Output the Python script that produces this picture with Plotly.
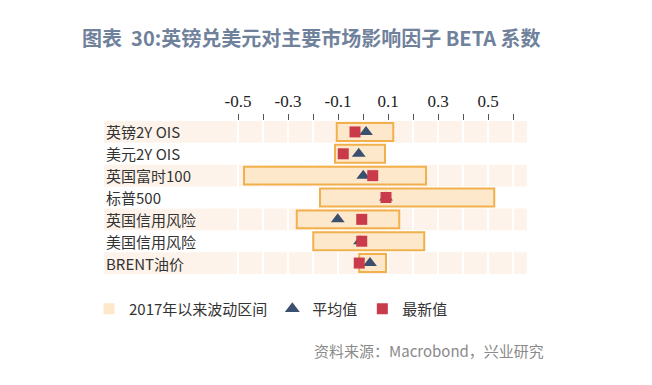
import plotly.graph_objects as go

categories = ["英镑2Y OIS", "美元2Y OIS", "英国富时100", "标普500", "英国信用风险", "美国信用风险", "BRENT油价"]
range_low = [-0.105, -0.112, -0.476, -0.172, -0.265, -0.199, -0.015]
range_high = [0.121, 0.088, 0.252, 0.525, 0.145, 0.245, 0.092]
mean_vals = [0.012, -0.017, 0.001, 0.092, -0.101, -0.012, 0.028]
latest_vals = [-0.032, -0.079, 0.039, 0.092, -0.005, -0.005, -0.015]
tick_vals = [-0.5, -0.4, -0.3, -0.2, -0.1, 0.0, 0.1, 0.2, 0.3, 0.4, 0.5, 0.6]
tick_text = ["-0.5", "", "-0.3", "", "-0.1", "", "0.1", "", "0.3", "", "0.5", ""]

title = "图表  30:英镑兑美元对主要市场影响因子 BETA 系数"
source = "资料来源：Macrobond，兴业研究"
legend_names = ["2017年以来波动区间", "平均值", "最新值"]

BOX_FILL = "#fde8cb"
BOX_LINE = "#f2b04c"
BAND = "#fdf3ea"
TRI = "#3b4f6f"
SQ = "#c93a4a"
CJK = "Noto Sans CJK SC"

ys = list(range(len(categories)))
fig = go.Figure()

fig.add_trace(go.Bar(
    y=ys, x=[h - l for l, h in zip(range_low, range_high)], base=range_low,
    orientation="h", width=0.82,
    marker=dict(color=BOX_FILL, line=dict(color=BOX_LINE, width=2)),
    showlegend=False, hoverinfo="skip",
))
fig.add_trace(go.Scatter(
    y=ys, x=mean_vals, mode="markers",
    marker=dict(symbol="triangle-up", size=12, color=TRI),
    showlegend=False,
))
fig.add_trace(go.Scatter(
    y=ys, x=latest_vals, mode="markers",
    marker=dict(symbol="square", size=11, color=SQ),
    showlegend=False,
))
# legend entries
fig.add_trace(go.Scatter(x=[None], y=[None], mode="markers", name=legend_names[0],
                         marker=dict(symbol="square", size=11, color=BOX_FILL)))
fig.add_trace(go.Scatter(x=[None], y=[None], mode="markers", name=legend_names[1],
                         marker=dict(symbol="triangle-up", size=13, color=TRI)))
fig.add_trace(go.Scatter(x=[None], y=[None], mode="markers", name=legend_names[2],
                         marker=dict(symbol="square", size=11, color=SQ)))

shapes = []
for i in ys:
    if i % 2 == 0:
        shapes.append(dict(type="rect", xref="paper", x0=0, x1=1, yref="y",
                           y0=i - 0.5, y1=i + 0.5, fillcolor=BAND,
                           line=dict(width=0), layer="below"))

annotations = []
for i, c in zip(ys, categories):
    annotations.append(dict(xref="paper", x=0, xanchor="left", yref="y", y=i,
                            text=c, showarrow=False,
                            font=dict(family=CJK, size=15, color="#333333")))
annotations.append(dict(xref="paper", yref="paper", x=(80 - 104) / 423, xanchor="left",
                        y=(274 - 38) / 153, yanchor="middle", text=title, showarrow=False,
                        font=dict(family=CJK, size=20, color="#6f819b", weight="bold")))
annotations.append(dict(xref="paper", yref="paper", x=(546 - 104) / 423, xanchor="right",
                        y=(274 - 350) / 153, yanchor="middle", text=source, showarrow=False,
                        font=dict(family=CJK, size=15, color="#8a8a8a")))

fig.update_layout(
    width=652, height=385,
    margin=dict(l=96, r=133, t=113, b=119),
    paper_bgcolor="white", plot_bgcolor="rgba(0,0,0,0)",
    shapes=shapes, annotations=annotations,
    barmode="overlay",
    legend=dict(orientation="h", x=(89 - 104) / 423, xanchor="left",
                y=(274 - 309) / 153, yanchor="middle",
                font=dict(family=CJK, size=15, color="#333333"),
                bgcolor="rgba(0,0,0,0)"),
    xaxis=dict(range=[-1.036, 0.656], side="top", tickvals=tick_vals, ticktext=tick_text,
               ticks="outside", ticklen=6, tickcolor="#555555", tickwidth=1,
               showgrid=True, gridcolor="white", gridwidth=2, zeroline=False,
               showline=False,
               tickfont=dict(family="Liberation Serif", size=17, color="#222222")),
    yaxis=dict(range=[6.5, -0.5], showticklabels=False, showgrid=False,
               zeroline=False, showline=False),
)

fig.write_html("out.html")
